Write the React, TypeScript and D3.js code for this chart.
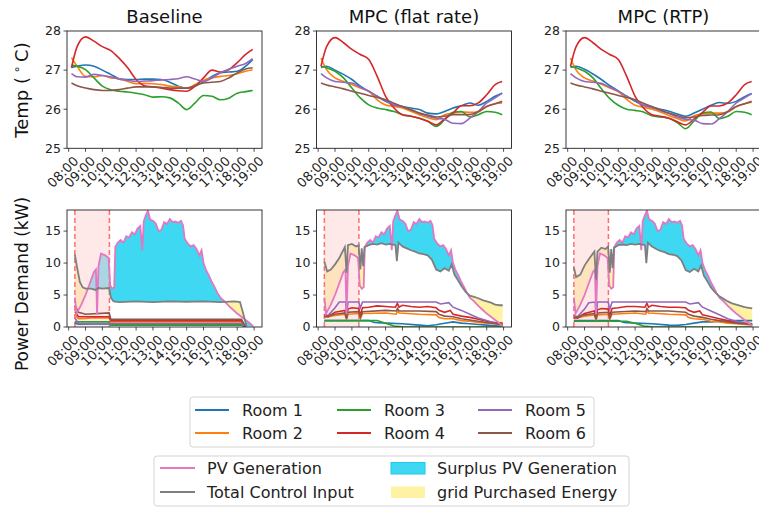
import React from "react";
import * as d3 from "d3";

// ---- data ----
const panelTitles = ["Baseline", "MPC (flat rate)", "MPC (RTP)"];
const roomNames = ["Room 1", "Room 2", "Room 3", "Room 4", "Room 5", "Room 6"];
const roomColors = ["#1f77b4", "#ff7f0e", "#2ca02c", "#d62728", "#9467bd", "#8c564b"];
const hourTicks = ["08:00", "09:00", "10:00", "11:00", "12:00", "13:00", "14:00", "15:00", "16:00", "17:00", "18:00", "19:00"];
const tempTicks = [25, 26, 27, 28];
const powerTicks = [0, 5, 10, 15];
const shadeWindow = ["08:22", "10:25"];

const tempTimes = ["08:10", "08:30", "09:00", "09:30", "10:00", "10:30", "11:00", "11:30", "12:00", "12:30", "13:00", "13:30",
  "14:00", "14:30", "15:00", "15:30", "16:00", "16:30", "17:00", "17:30", "18:00", "18:30", "18:55"];

const baselineTemp = [
  [27.07, 27.1, 27.13, 27.1, 27.0, 26.89, 26.78, 26.76, 26.76, 26.77, 26.77, 26.76, 26.69, 26.59, 26.54, 26.59, 26.71, 26.84, 26.93, 26.95, 26.97, 27.1, 27.27],
  [27.32, 27.1, 26.84, 26.83, 26.86, 26.8, 26.78, 26.71, 26.65, 26.66, 26.65, 26.63, 26.59, 26.57, 26.54, 26.63, 26.74, 26.8, 26.84, 26.86, 26.91, 26.97, 27.01],
  [27.12, 27.1, 27.01, 26.8, 26.59, 26.5, 26.46, 26.44, 26.41, 26.37, 26.31, 26.32, 26.29, 26.16, 25.99, 26.16, 26.35, 26.33, 26.24, 26.28, 26.41, 26.45, 26.48],
  [27.06, 27.6, 27.85, 27.74, 27.6, 27.5, 27.3, 27.06, 26.76, 26.6, 26.57, 26.54, 26.5, 26.47, 26.46, 26.59, 26.8, 27.0, 26.95, 27.01, 27.19, 27.4, 27.53],
  [26.91, 26.83, 26.82, 26.89, 26.86, 26.83, 26.77, 26.74, 26.71, 26.72, 26.73, 26.75, 26.76, 26.78, 26.83, 26.77, 26.71, 26.8, 26.93, 27.02, 27.1, 27.17, 27.29],
  [26.67, 26.6, 26.54, 26.5, 26.48, 26.48, 26.5, 26.54, 26.57, 26.57, 26.57, 26.56, 26.54, 26.54, 26.54, 26.6, 26.67, 26.69, 26.71, 26.8, 26.93, 27.03, 27.06],
];

const flatTemp = [
  [27.07, 27.1, 27.0, 26.89, 26.76, 26.59, 26.46, 26.33, 26.2, 26.11, 26.07, 26.03, 25.99, 25.9, 25.88, 25.94, 26.03, 26.09, 26.16, 26.1, 26.2, 26.33, 26.41],
  [27.31, 27.01, 26.8, 26.71, 26.63, 26.54, 26.46, 26.24, 26.11, 26.07, 26.03, 25.95, 25.86, 25.78, 25.73, 25.86, 25.9, 25.93, 25.92, 25.93, 26.07, 26.14, 26.16],
  [27.1, 27.06, 26.97, 26.8, 26.54, 26.29, 26.11, 26.03, 25.99, 25.94, 25.86, 25.82, 25.77, 25.69, 25.56, 25.73, 25.92, 25.94, 25.8, 25.86, 25.94, 25.92, 25.86],
  [27.1, 27.6, 27.83, 27.7, 27.53, 27.4, 27.27, 26.84, 26.33, 26.03, 25.86, 25.82, 25.77, 25.69, 25.6, 25.75, 25.9, 26.09, 26.09, 26.16, 26.37, 26.63, 26.71],
  [26.91, 26.8, 26.71, 26.69, 26.67, 26.56, 26.46, 26.33, 26.22, 26.11, 26.06, 25.99, 25.9, 25.82, 25.77, 25.74, 25.64, 25.63, 25.77, 25.94, 26.16, 26.29, 26.41],
  [26.67, 26.62, 26.57, 26.52, 26.46, 26.41, 26.35, 26.3, 26.24, 26.15, 26.07, 25.98, 25.9, 25.85, 25.8, 25.82, 25.86, 25.86, 25.86, 25.94, 26.07, 26.14, 26.2],
];

const rtpTemp = [
  [27.07, 27.1, 27.02, 26.9, 26.76, 26.6, 26.47, 26.33, 26.2, 26.1, 26.05, 26.0, 25.95, 25.88, 25.82, 25.9, 26.0, 26.1, 26.17, 26.15, 26.2, 26.32, 26.4],
  [27.31, 27.0, 26.8, 26.72, 26.64, 26.54, 26.45, 26.25, 26.1, 26.05, 26.0, 25.93, 25.84, 25.76, 25.7, 25.83, 25.88, 25.9, 25.9, 25.93, 26.06, 26.14, 26.18],
  [27.1, 27.06, 26.97, 26.8, 26.52, 26.27, 26.1, 26.0, 25.97, 25.93, 25.83, 25.8, 25.77, 25.66, 25.5, 25.7, 25.9, 25.93, 25.76, 25.82, 25.94, 25.92, 25.86],
  [27.1, 27.6, 27.83, 27.7, 27.53, 27.4, 27.27, 26.84, 26.33, 26.03, 25.86, 25.82, 25.77, 25.68, 25.6, 25.75, 25.92, 26.08, 26.08, 26.16, 26.37, 26.63, 26.71],
  [26.91, 26.8, 26.71, 26.69, 26.66, 26.56, 26.46, 26.33, 26.22, 26.1, 26.04, 25.97, 25.89, 25.8, 25.74, 25.72, 25.63, 25.62, 25.76, 25.94, 26.16, 26.29, 26.4],
  [26.67, 26.62, 26.57, 26.52, 26.46, 26.41, 26.35, 26.3, 26.24, 26.15, 26.07, 25.98, 25.9, 25.84, 25.78, 25.8, 25.84, 25.85, 25.86, 25.94, 26.07, 26.14, 26.2],
];

type Pt = [string, number];

const pvGeneration: Pt[] = [
  ["08:22", 4.6], ["08:28", 2.1], ["08:45", 3.5], ["09:00", 5.0], ["09:15", 6.8], ["09:30", 8.6], ["09:37", 9.0], ["09:41", 2.0],
  ["09:46", 9.5], ["09:55", 11.5], ["10:10", 11.2], ["10:22", 10.8], ["10:28", 6.5], ["10:35", 6.0], ["10:42", 6.2], ["10:46", 12.5],
  ["10:55", 13.2], ["11:05", 13.6], ["11:15", 13.2], ["11:25", 14.2], ["11:35", 14.0], ["11:45", 14.8], ["11:55", 14.5], ["12:05", 15.4],
  ["12:15", 15.8], ["12:22", 12.0], ["12:27", 16.5], ["12:35", 17.5], ["12:42", 18.2], ["12:50", 16.8], ["13:00", 16.6], ["13:10", 16.2],
  ["13:20", 15.0], ["13:30", 15.2], ["13:40", 16.4], ["13:50", 16.1], ["14:00", 16.9], ["14:10", 16.4], ["14:20", 16.5], ["14:30", 16.3],
  ["14:40", 16.6], ["14:47", 15.9], ["14:53", 13.8], ["15:05", 13.0], ["15:15", 12.6], ["15:25", 12.8], ["15:35", 12.2], ["15:45", 11.2],
  ["15:53", 12.0], ["16:00", 10.0], ["16:10", 8.8], ["16:20", 8.0], ["16:30", 7.0], ["16:40", 6.2], ["16:50", 5.3], ["17:00", 4.6],
  ["17:15", 4.0], ["17:30", 3.3], ["17:45", 2.7], ["18:00", 2.1], ["18:15", 1.6], ["18:30", 1.1], ["18:45", 0.6], ["18:57", 0.1],
];

const baselineTotal: Pt[] = [
  ["08:22", 11.3], ["08:30", 9.3], ["08:40", 7.0], ["08:50", 6.2], ["09:00", 6.0], ["09:20", 6.0], ["09:35", 5.8], ["09:45", 6.1],
  ["10:00", 6.0], ["10:24", 6.1], ["10:30", 4.6], ["10:40", 4.0], ["11:00", 3.9], ["12:00", 4.0], ["13:00", 3.9], ["14:00", 4.0],
  ["15:00", 3.95], ["16:00", 4.0], ["17:00", 3.9], ["17:50", 4.0], ["18:10", 3.9], ["18:22", 2.0], ["18:33", 0.1],
];

const flatTotal: Pt[] = [
  ["08:22", 10.2], ["08:32", 8.7], ["08:45", 9.0], ["09:00", 9.8], ["09:15", 10.8], ["09:35", 12.5], ["09:41", 8.5], ["09:46", 12.8],
  ["10:00", 13.0], ["10:15", 12.6], ["10:24", 12.8], ["10:30", 9.0], ["10:35", 12.3], ["10:40", 9.5], ["10:45", 12.5], ["11:00", 12.8],
  ["11:15", 13.0], ["11:30", 12.9], ["11:45", 13.1], ["12:00", 12.9], ["12:15", 13.0], ["12:35", 12.8], ["12:40", 10.3], ["12:46", 13.2],
  ["13:00", 12.6], ["13:15", 12.3], ["13:30", 12.0], ["13:45", 11.8], ["14:00", 11.5], ["14:15", 11.4], ["14:30", 11.2], ["14:45", 10.5],
  ["15:00", 9.0], ["15:15", 8.7], ["15:30", 9.2], ["15:45", 8.8], ["15:55", 9.8], ["16:05", 8.2], ["16:15", 7.5], ["16:30", 6.4],
  ["16:45", 5.5], ["17:00", 4.9], ["17:15", 4.7], ["17:30", 4.5], ["17:45", 4.2], ["18:00", 4.0], ["18:15", 3.8], ["18:30", 3.5],
  ["18:45", 3.4], ["18:57", 3.4],
];

const rtpTotal: Pt[] = [
  ["08:22", 9.3], ["08:30", 7.8], ["08:45", 8.2], ["09:00", 9.6], ["09:15", 10.6], ["09:35", 11.8], ["09:41", 7.4], ["09:46", 11.8],
  ["10:00", 12.4], ["10:15", 12.2], ["10:24", 12.6], ["10:30", 8.5], ["10:35", 12.2], ["10:40", 9.2], ["10:45", 12.4], ["11:00", 12.8],
  ["11:15", 12.9], ["11:30", 12.8], ["11:45", 13.0], ["12:00", 12.9], ["12:15", 13.0], ["12:35", 12.8], ["12:40", 10.0], ["12:46", 13.2],
  ["13:00", 12.6], ["13:15", 12.2], ["13:30", 11.9], ["13:45", 11.7], ["14:00", 11.4], ["14:15", 11.3], ["14:30", 11.1], ["14:45", 10.4],
  ["15:00", 8.9], ["15:15", 8.6], ["15:30", 9.1], ["15:45", 8.7], ["15:55", 9.6], ["16:05", 8.0], ["16:15", 7.3], ["16:30", 6.2],
  ["16:45", 5.4], ["17:00", 4.8], ["17:15", 4.4], ["17:30", 4.0], ["17:45", 3.7], ["18:00", 3.5], ["18:15", 3.3], ["18:30", 3.1],
  ["18:45", 3.0], ["18:57", 2.9],
];

const baselineRoomPower: Pt[][] = [
  [["08:22", 0.6], ["08:35", 0.45], ["10:24", 0.5], ["10:30", 0.35], ["18:15", 0.35], ["18:30", 0]],
  [["08:22", 1.9], ["08:35", 1.3], ["09:00", 1.35], ["09:30", 1.45], ["10:24", 1.4], ["10:30", 0.8], ["18:15", 0.8], ["18:30", 0]],
  [["08:22", 0.8], ["10:24", 0.8], ["10:30", 0.3], ["18:15", 0.3], ["18:30", 0]],
  [["08:22", 2.4], ["08:35", 1.6], ["10:24", 1.6], ["10:30", 1.0], ["18:15", 1.0], ["18:30", 0]],
  [["08:22", 1.4], ["08:35", 0.5], ["10:24", 0.5], ["10:30", 0.55], ["18:15", 0.55], ["18:30", 0]],
  [["08:22", 3.4], ["08:35", 2.3], ["09:00", 2.0], ["10:24", 2.2], ["10:30", 1.2], ["18:15", 1.2], ["18:30", 0]],
];

const flatRoomPower: Pt[][] = [
  [["08:22", 1.0], ["11:00", 1.0], ["11:20", 0.7], ["12:00", 0.6], ["13:00", 0.5], ["14:00", 0.3], ["14:30", 0.2], ["15:00", 0.35],
    ["15:30", 0.6], ["16:00", 0.8], ["16:30", 0.6], ["17:00", 0.5], ["17:30", 0.4], ["18:00", 0.3], ["18:30", 0.2], ["18:57", 0.1]],
  [["08:22", 1.5], ["09:00", 1.8], ["09:35", 2.0], ["09:41", 1.2], ["09:46", 2.0], ["10:24", 2.1], ["10:30", 1.3], ["10:38", 2.1],
    ["12:00", 2.2], ["12:38", 2.0], ["12:42", 2.5], ["12:48", 2.2], ["14:00", 2.0], ["15:00", 1.9], ["15:10", 1.5], ["15:30", 1.3],
    ["16:00", 1.3], ["16:30", 1.0], ["17:00", 0.9], ["17:30", 0.7], ["18:00", 0.6], ["18:30", 0.5], ["18:57", 0.3]],
  [["08:22", 1.0], ["11:30", 1.0], ["12:00", 0.6], ["12:30", 0.15], ["13:00", 0.05], ["18:57", 0.0]],
  [["08:22", 1.8], ["08:35", 1.6], ["09:00", 2.3], ["09:35", 2.6], ["09:41", 1.5], ["09:46", 2.8], ["10:00", 3.0], ["10:24", 2.9],
    ["10:30", 1.9], ["10:38", 3.0], ["11:00", 3.1], ["11:30", 3.3], ["12:00", 3.2], ["12:35", 3.1], ["12:42", 3.7], ["12:48", 3.1],
    ["13:00", 3.4], ["13:30", 3.2], ["14:00", 3.1], ["14:30", 3.2], ["15:00", 3.0], ["15:10", 2.6], ["15:30", 2.3], ["15:50", 2.6],
    ["16:00", 2.0], ["16:30", 1.7], ["17:00", 1.5], ["17:30", 1.2], ["18:00", 0.9], ["18:30", 0.7], ["18:57", 0.6]],
  [["08:22", 2.0], ["08:35", 1.8], ["09:00", 3.0], ["09:15", 3.9], ["09:38", 3.9], ["09:41", 1.5], ["09:46", 3.9], ["10:24", 3.9],
    ["10:30", 3.0], ["10:38", 3.9], ["15:00", 3.9], ["15:15", 3.6], ["15:45", 3.8], ["16:00", 3.1], ["16:30", 2.6], ["17:00", 2.0],
    ["17:30", 1.4], ["18:00", 1.0], ["18:30", 0.6], ["18:57", 0.4]],
  [["08:22", 1.6], ["09:00", 2.0], ["09:35", 2.2], ["09:41", 1.3], ["09:46", 2.3], ["10:24", 2.4], ["10:30", 1.5], ["10:38", 2.4],
    ["12:00", 2.6], ["12:38", 2.5], ["12:42", 2.9], ["12:48", 2.5], ["14:00", 2.5], ["15:00", 2.4], ["15:10", 2.0], ["15:30", 1.7],
    ["16:00", 1.6], ["16:30", 1.3], ["17:00", 1.1], ["17:30", 0.9], ["18:00", 0.7], ["18:30", 0.5], ["18:57", 0.4]],
];

const rtpRoomPower: Pt[][] = [
  [["08:22", 1.0], ["11:00", 1.0], ["11:20", 0.7], ["12:00", 0.6], ["13:00", 0.5], ["14:00", 0.3], ["14:30", 0.25], ["15:00", 0.4],
    ["15:30", 0.6], ["16:00", 0.8], ["16:30", 0.8], ["17:00", 0.9], ["17:30", 0.95], ["18:00", 1.0], ["18:30", 1.0], ["18:57", 1.0]],
  [["08:22", 1.3], ["09:00", 1.7], ["09:35", 1.9], ["09:41", 1.1], ["09:46", 1.9], ["10:24", 2.0], ["10:30", 1.2], ["10:38", 2.0],
    ["12:00", 2.2], ["12:38", 2.0], ["12:42", 2.5], ["12:48", 2.2], ["14:00", 2.0], ["15:00", 1.9], ["15:10", 1.5], ["15:30", 1.3],
    ["16:00", 1.2], ["16:30", 0.9], ["17:00", 0.8], ["17:30", 0.6], ["18:00", 0.5], ["18:30", 0.4], ["18:57", 0.3]],
  [["08:22", 0.9], ["11:30", 0.9], ["12:00", 0.6], ["12:30", 0.15], ["13:00", 0.05], ["18:57", 0.0]],
  [["08:22", 1.6], ["08:35", 1.4], ["09:00", 2.1], ["09:35", 2.5], ["09:41", 1.3], ["09:46", 2.7], ["10:00", 2.9], ["10:24", 2.8],
    ["10:30", 1.8], ["10:38", 2.9], ["11:00", 3.0], ["11:30", 3.2], ["12:00", 3.2], ["12:35", 3.1], ["12:42", 3.7], ["12:48", 3.1],
    ["13:00", 3.4], ["13:30", 3.2], ["14:00", 3.1], ["14:30", 3.1], ["15:00", 3.0], ["15:10", 2.6], ["15:30", 2.3], ["15:50", 2.5],
    ["16:00", 1.9], ["16:30", 1.6], ["17:00", 1.3], ["17:30", 1.0], ["18:00", 0.8], ["18:30", 0.6], ["18:57", 0.5]],
  [["08:22", 1.8], ["08:35", 1.6], ["09:00", 2.8], ["09:15", 3.8], ["09:38", 3.9], ["09:41", 1.4], ["09:46", 3.9], ["10:24", 3.9],
    ["10:30", 2.8], ["10:38", 3.9], ["15:00", 3.9], ["15:15", 3.6], ["15:45", 3.8], ["16:00", 3.1], ["16:30", 2.5], ["17:00", 1.9],
    ["17:30", 1.3], ["18:00", 0.9], ["18:30", 0.6], ["18:57", 0.4]],
  [["08:22", 1.4], ["09:00", 1.9], ["09:35", 2.1], ["09:41", 1.2], ["09:46", 2.2], ["10:24", 2.3], ["10:30", 1.4], ["10:38", 2.3],
    ["12:00", 2.5], ["12:38", 2.4], ["12:42", 2.9], ["12:48", 2.5], ["14:00", 2.5], ["15:00", 2.3], ["15:10", 2.0], ["15:30", 1.7],
    ["16:00", 1.5], ["16:30", 1.2], ["17:00", 1.0], ["17:30", 0.8], ["18:00", 0.6], ["18:30", 0.5], ["18:57", 0.4]],
];

const panelTemps = [baselineTemp, flatTemp, rtpTemp];
const panelTotals = [baselineTotal, flatTotal, rtpTotal];
const panelRooms = [baselineRoomPower, flatRoomPower, rtpRoomPower];

// ---- helpers ----
const hrs = (s: string) => {
  const [h, m] = s.split(":").map(Number);
  return h + m / 60;
};

const interpAt = (pts: Pt[], t: number) => {
  const xs = pts.map((p) => hrs(p[0]));
  if (t <= xs[0]) return pts[0][1];
  if (t >= xs[xs.length - 1]) return pts[pts.length - 1][1];
  const i = d3.bisectRight(xs, t);
  const f = (t - xs[i - 1]) / (xs[i] - xs[i - 1]);
  return pts[i - 1][1] + f * (pts[i][1] - pts[i - 1][1]);
};

const FONT = "DejaVu Sans, sans-serif";
const panelLefts = [67, 316.5, 566];
const panelW = 195;
const topY = [31, 148.3];
const botY = [210, 327];

const Panel: React.FC<{ idx: number }> = ({ idx }) => {
  const left = panelLefts[idx];
  const x = d3.scaleLinear().domain([7.9, 19.47]).range([left, left + panelW]);
  const yT = d3.scaleLinear().domain([25, 28]).range([topY[1], topY[0]]);
  const yP = d3.scaleLinear().domain([0, 18.3]).range([botY[1], botY[0]]);

  const tLine = d3.line<number>()
    .x((_, i) => x(hrs(tempTimes[i])))
    .y((d) => yT(d))
    .curve(d3.curveMonotoneX);
  const pLine = d3.line<Pt>().x((d) => x(hrs(d[0]))).y((d) => yP(d[1]));

  const total = panelTotals[idx];
  // fill_between: sample PV and total on a fine grid so crossings are clean
  const t0 = hrs(pvGeneration[0][0]);
  const t1 = hrs(pvGeneration[pvGeneration.length - 1][0]);
  const grid = d3.range(t0, t1 + 1e-6, 1 / 120);
  const rows = grid.map((t) => ({ t, pv: interpAt(pvGeneration, t), tot: interpAt(total, t) }));
  const surplus = d3.area<any>().x((d) => x(d.t)).y0((d) => yP(d.tot)).y1((d) => yP(Math.max(d.pv, d.tot)));
  const bought = d3.area<any>().x((d) => x(d.t)).y0((d) => yP(d.pv)).y1((d) => yP(Math.max(d.pv, d.tot)));

  const axisCol = "#222";
  const xTicks = hourTicks.map((s) => ({ s, v: x(hrs(s)) }));
  const clipId = `clip${idx}`;

  const xAxis = (yb: number) => (
    <g>
      {xTicks.map((tk) => (
        <g key={tk.s}>
          <line x1={tk.v} x2={tk.v} y1={yb} y2={yb + 3.5} stroke={axisCol} strokeWidth={0.8} />
          <text transform={`translate(${tk.v + 4},${yb + 7}) rotate(-45)`} textAnchor="end" dy="0.72em"
            fontSize={13} fill={axisCol} fontFamily={FONT}>{tk.s}</text>
        </g>
      ))}
    </g>
  );

  return (
    <g>
      <defs>
        <clipPath id={clipId}>
          <rect x={left} y={botY[0]} width={panelW} height={botY[1] - botY[0]} />
        </clipPath>
      </defs>
      <text x={left + panelW / 2} y={23} textAnchor="middle" fontSize={18} fontFamily={FONT} fill="#111">{panelTitles[idx]}</text>

      {/* temperature panel */}
      {panelTemps[idx].map((arr, r) => (
        <path key={r} d={tLine(arr) || ""} fill="none" stroke={roomColors[r]} strokeWidth={1.6} />
      ))}
      <rect x={left} y={topY[0]} width={panelW} height={topY[1] - topY[0]} fill="none" stroke={axisCol} strokeWidth={0.9} />
      {tempTicks.map((v) => (
        <g key={v}>
          <line x1={left - 3.5} x2={left} y1={yT(v)} y2={yT(v)} stroke={axisCol} strokeWidth={0.8} />
          <text x={left - 6} y={yT(v)} dy="0.35em" textAnchor="end" fontSize={12.5} fontFamily={FONT} fill={axisCol}>{v}</text>
        </g>
      ))}
      {xAxis(topY[1])}

      {/* power panel */}
      <g clipPath={`url(#${clipId})`}>
        <path d={surplus(rows) || ""} fill="#3ed8f2" stroke="none" />
        <path d={bought(rows) || ""} fill="#fff3a3" stroke="none" />
        <rect x={x(hrs(shadeWindow[0]))} y={botY[0]} width={x(hrs(shadeWindow[1])) - x(hrs(shadeWindow[0]))}
          height={botY[1] - botY[0]} fill="#ffd6d6" opacity={0.55} />
        {shadeWindow.map((s) => (
          <line key={s} x1={x(hrs(s))} x2={x(hrs(s))} y1={botY[0]} y2={botY[1]} stroke="#ff6f6f" strokeWidth={1.5} strokeDasharray="5,3" />
        ))}
        {panelRooms[idx].map((arr, r) => (
          <path key={r} d={pLine(arr) || ""} fill="none" stroke={roomColors[r]} strokeWidth={1.6} />
        ))}
        <path d={pLine(pvGeneration) || ""} fill="none" stroke="#e377c2" strokeWidth={1.8} />
        <path d={pLine(total) || ""} fill="none" stroke="#7f7f7f" strokeWidth={1.8} />
      </g>
      <rect x={left} y={botY[0]} width={panelW} height={botY[1] - botY[0]} fill="none" stroke={axisCol} strokeWidth={0.9} />
      {powerTicks.map((v) => (
        <g key={v}>
          <line x1={left - 3.5} x2={left} y1={yP(v)} y2={yP(v)} stroke={axisCol} strokeWidth={0.8} />
          <text x={left - 6} y={yP(v)} dy="0.35em" textAnchor="end" fontSize={12.5} fontFamily={FONT} fill={axisCol}>{v}</text>
        </g>
      ))}
      {xAxis(botY[1])}
    </g>
  );
};

const Legends: React.FC = () => {
  const colX = [195, 337, 478];
  const rowY = [410, 433];
  const cap = { fontSize: 16, fontFamily: FONT, fill: "#222" };
  return (
    <g>
      <rect x={190} y={397} width={404} height={50} rx={3} fill="#fff" stroke="#d4d4d4" />
      {roomNames.map((n, i) => {
        const cx = colX[Math.floor(i / 2)];
        const cy = rowY[i % 2];
        return (
          <g key={n}>
            <line x1={cx} x2={cx + 34} y1={cy} y2={cy} stroke={roomColors[i]} strokeWidth={2} />
            <text x={cx + 47} y={cy} dy="0.35em" {...cap}>{n}</text>
          </g>
        );
      })}
      <rect x={154} y={456} width={475} height={50} rx={3} fill="#fff" stroke="#d4d4d4" />
      <line x1={160} x2={195} y1={468} y2={468} stroke="#e377c2" strokeWidth={2} />
      <text x={207} y={468} dy="0.35em" {...cap}>PV Generation</text>
      <line x1={160} x2={195} y1={492} y2={492} stroke="#7f7f7f" strokeWidth={2} />
      <text x={207} y={492} dy="0.35em" {...cap}>Total Control Input</text>
      <rect x={391} y={462.5} width={34} height={11.5} fill="#3ed8f2" stroke="#1fc8ec" />
      <text x={437} y={468} dy="0.35em" {...cap}>Surplus PV Generation</text>
      <rect x={391} y={486.5} width={34} height={11.5} fill="#fff3a3" />
      <text x={437} y={492} dy="0.35em" {...cap}>grid Purchased Energy</text>
    </g>
  );
};

export default function App() {
  return (
    <svg width={759} height={507} style={{ position: "absolute", left: 0, top: 0, background: "#fff" }}>
      <rect width={759} height={507} fill="#fff" />
      <text transform="translate(28,90) rotate(-90)" textAnchor="middle" fontSize={18} fontFamily={FONT} fill="#111">
        Temp (
        <tspan fontSize={12} dy={-7}> ∘ </tspan>
        <tspan dy={7}>C)</tspan>
      </text>
      <text transform="translate(28,284) rotate(-90)" textAnchor="middle" fontSize={17} fontFamily={FONT} fill="#111">
        Power Demand (kW)
      </text>
      {[0, 1, 2].map((i) => <Panel key={i} idx={i} />)}
      <Legends />
    </svg>
  );
}
